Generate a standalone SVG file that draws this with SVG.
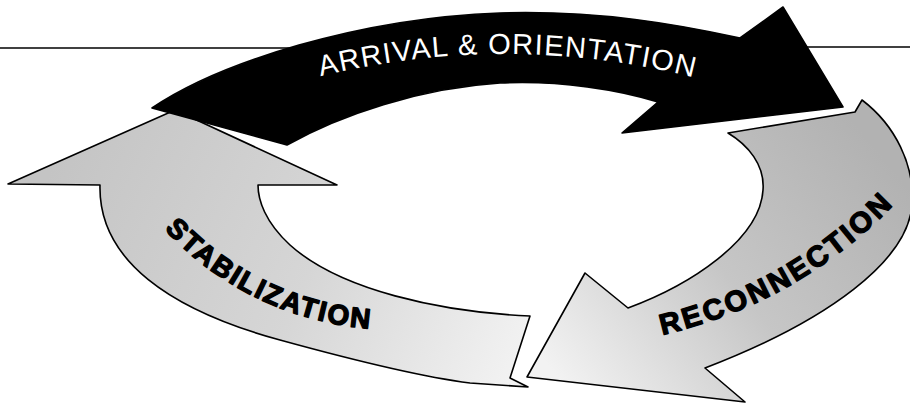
<svg xmlns="http://www.w3.org/2000/svg" width="910" height="404" viewBox="0 0 910 404">
<style>
.arrow{stroke:#000;stroke-width:1.6;stroke-linejoin:round}
.rule{stroke:#000;stroke-width:1.6;fill:none}
.lblW{font-family:"Liberation Sans",Arial,sans-serif;font-size:29px;fill:#fff;letter-spacing:1.3px}
.lblB{font-family:"Liberation Sans",Arial,sans-serif;font-weight:bold;fill:#000;stroke:#000;stroke-width:1.4px;stroke-linejoin:round}
</style>
<defs>
<linearGradient id="gStab" gradientUnits="userSpaceOnUse" x1="60" y1="150" x2="520" y2="360">
<stop offset="0" stop-color="#c4c4c4"/>
<stop offset="0.55" stop-color="#d6d6d6"/>
<stop offset="1" stop-color="#f2f2f2"/>
</linearGradient>
<linearGradient id="gReco" gradientUnits="userSpaceOnUse" x1="860" y1="130" x2="560" y2="380">
<stop offset="0" stop-color="#b2b2b2"/>
<stop offset="0.5" stop-color="#c6c6c6"/>
<stop offset="1" stop-color="#f2f2f2"/>
</linearGradient>
<path id="pArr" d="M300,81.7 A772,772 0 0 1 715,83.1"/>
<path id="pReco" d="M641.2,339 A462,462 0 0 0 914.9,181"/>
<path id="pStab" d="M154.2,217.6 A313.9,313.9 0 0 0 394.7,329.7"/>
</defs>

<g id="rules">
<path class="rule" d="M0,48 H292"/>
<path class="rule" d="M806,47 H910"/>
</g>

<g id="connectors">
<g id="stabilization">
<path class="arrow" fill="url(#gStab)" d="M175,110 L337,185 L258,185 C258,200 265,222 290,245 C340,290 440,312 530,316 L510,378 L528,387 L470,383 C430,378 360,362 280,340 C170,310 98,260 100,185 L8,184 Z"/>
<text class="lblB" font-size="28" letter-spacing="2"><textPath href="#pStab" startOffset="133" text-anchor="middle">STABILIZATION</textPath></text>
</g>
<g id="reconnection">
<path class="arrow" fill="url(#gReco)" d="M728,133 L855,112 L862,100 C895,125 915,165 912,205 C908,260 830,320 705,368 L745,402 L527,377 L585,273 L628,308 C690,285 760,240 763,190 C765,165 748,145 728,133 Z"/>
<text class="lblB" font-size="29" letter-spacing="3"><textPath href="#pReco" startOffset="157" text-anchor="middle">RECONNECTION</textPath></text>
</g>
<g id="arrival">
<path class="arrow" fill="#000" d="M152,108 C220,62 360,18 500,13 C600,10 680,25 740,38 L783,7 L843,107 L622,133 L658,102 C620,90 560,80 500,83 C420,88 340,115 287,145 Z"/>
<text class="lblW"><textPath href="#pArr" startOffset="50%" text-anchor="middle">ARRIVAL &amp; ORIENTATION</textPath></text>
</g>
</g>
</svg>
